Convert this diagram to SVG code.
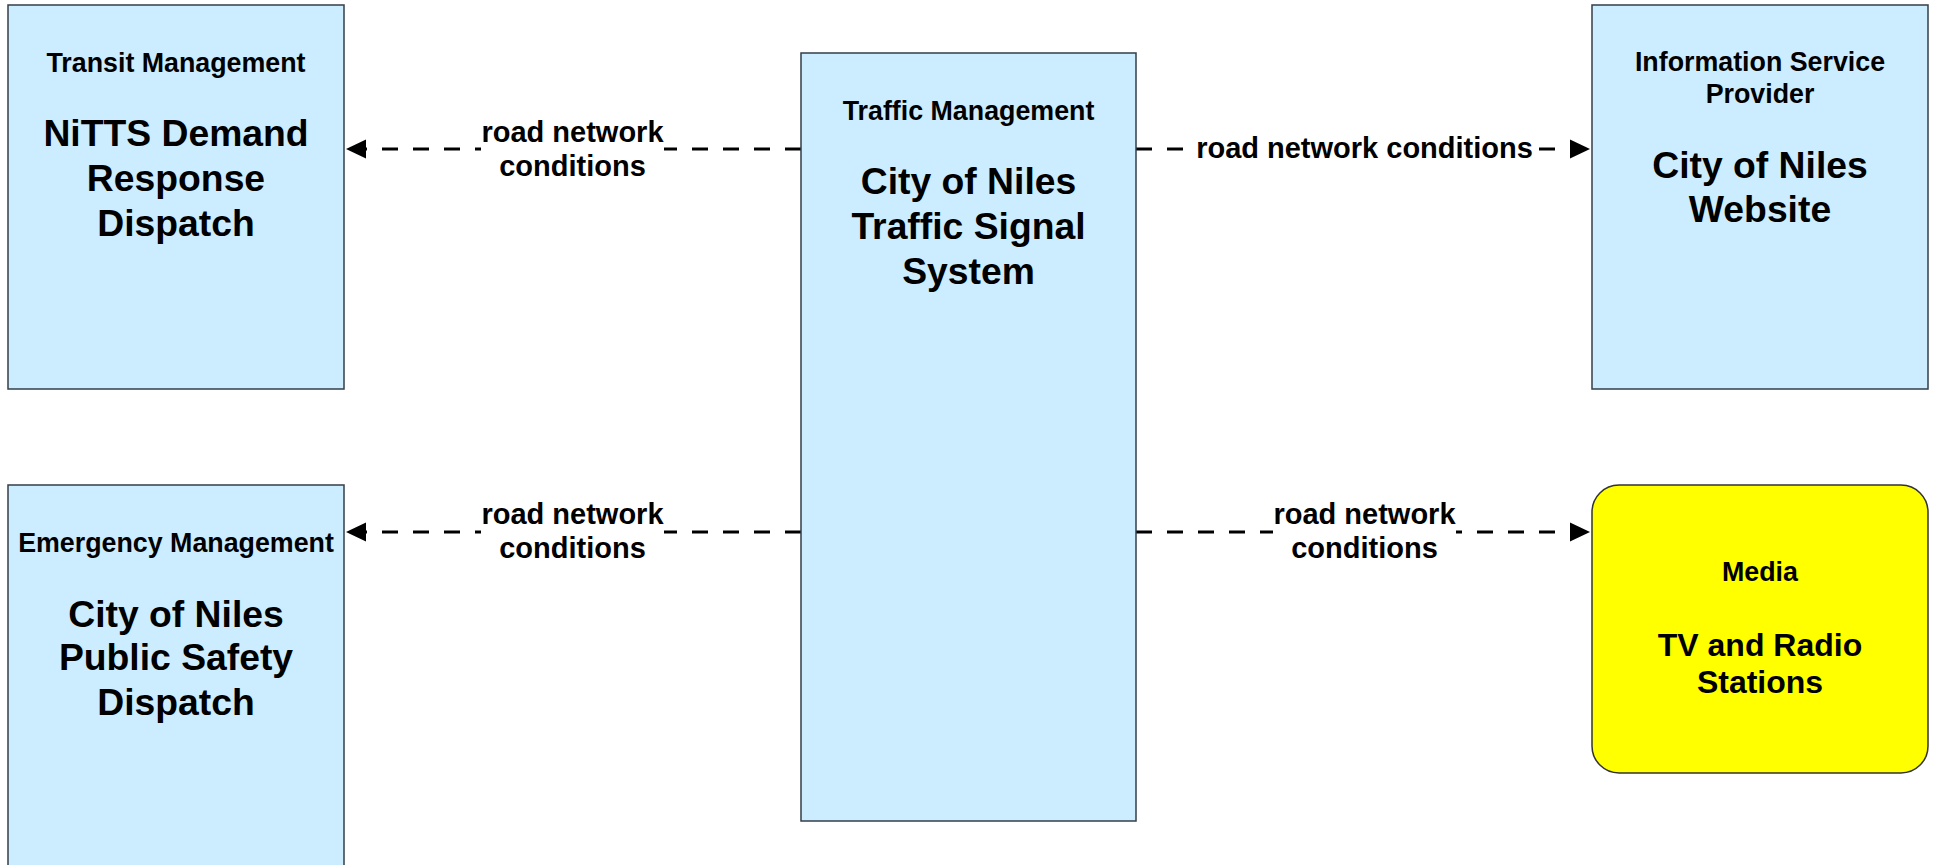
<svg xmlns="http://www.w3.org/2000/svg" width="1939" height="865" viewBox="0 0 1939 865">
<defs>
<style>
.box{fill:#CCECFF;stroke:#333F48;stroke-width:1.5}
.media{fill:#FFFF00;stroke:#333333;stroke-width:1.5}
text{font-family:"Liberation Sans",Arial,sans-serif;font-weight:bold;fill:#000;text-anchor:middle}
.t{font-size:26.8px}
.b{font-size:37.3px}
.m{font-size:32px}
.l{font-size:29px}
.conn{fill:none;stroke:#000;stroke-width:2.8;stroke-dasharray:16 15}
.lbg{fill:#FFFFFF}
</style>
<marker id="arr" markerUnits="userSpaceOnUse" markerWidth="20" markerHeight="20" viewBox="0 0 18 18" refX="18" refY="9" orient="auto">
<path d="M0,0.5 L18,9 L0,17.5 Z" fill="#000"/>
</marker>
</defs>
<rect width="1939" height="865" fill="#FFFFFF"/>

<g id="connectors">
<path class="conn" d="M801,149 L346,149" marker-end="url(#arr)"/>
<path class="conn" d="M1136,149 L1590,149" marker-end="url(#arr)"/>
<path class="conn" d="M801,532 L346,532" marker-end="url(#arr)"/>
<path class="conn" d="M1136,532 L1590,532" marker-end="url(#arr)"/>
<rect class="lbg" x="481" y="119" width="183" height="65"/>
<text class="l" x="572.5" y="141.5">road network</text>
<text class="l" x="572.5" y="175.5">conditions</text>
<rect class="lbg" x="1195" y="131" width="339" height="34"/>
<text class="l" x="1364.5" y="157.5">road network conditions</text>
<rect class="lbg" x="481" y="502" width="183" height="65"/>
<text class="l" x="572.5" y="523.5">road network</text>
<text class="l" x="572.5" y="558">conditions</text>
<rect class="lbg" x="1273" y="502" width="183" height="65"/>
<text class="l" x="1364.5" y="523.5">road network</text>
<text class="l" x="1364.5" y="558">conditions</text>
</g>

<g id="transit">
<rect class="box" x="8" y="5" width="336" height="384"/>
<text class="t" x="176" y="71.5">Transit Management</text>
<text class="b" x="176" y="145.5">NiTTS Demand</text>
<text class="b" x="176" y="190.5">Response</text>
<text class="b" x="176" y="235.5">Dispatch</text>
</g>

<g id="emergency">
<rect class="box" x="8" y="485" width="336" height="390"/>
<text class="t" x="176" y="552">Emergency Management</text>
<text class="b" x="176" y="626.5">City of Niles</text>
<text class="b" x="176" y="670">Public Safety</text>
<text class="b" x="176" y="714.5">Dispatch</text>
</g>

<g id="traffic">
<rect class="box" x="801" y="53" width="335" height="768"/>
<text class="t" x="968.5" y="119.5">Traffic Management</text>
<text class="b" x="968.5" y="194">City of Niles</text>
<text class="b" x="968.5" y="239">Traffic Signal</text>
<text class="b" x="968.5" y="283.5">System</text>
</g>

<g id="isp">
<rect class="box" x="1592" y="5" width="336" height="384"/>
<text class="t" x="1760" y="71">Information Service</text>
<text class="t" x="1760" y="103">Provider</text>
<text class="b" x="1760" y="177.5">City of Niles</text>
<text class="b" x="1760" y="222">Website</text>
</g>

<g id="media">
<rect class="media" x="1592" y="485" width="336" height="288" rx="27" ry="27"/>
<text class="t" x="1760" y="580.5">Media</text>
<text class="m" x="1760" y="656">TV and Radio</text>
<text class="m" x="1760" y="693">Stations</text>
</g>
</svg>
